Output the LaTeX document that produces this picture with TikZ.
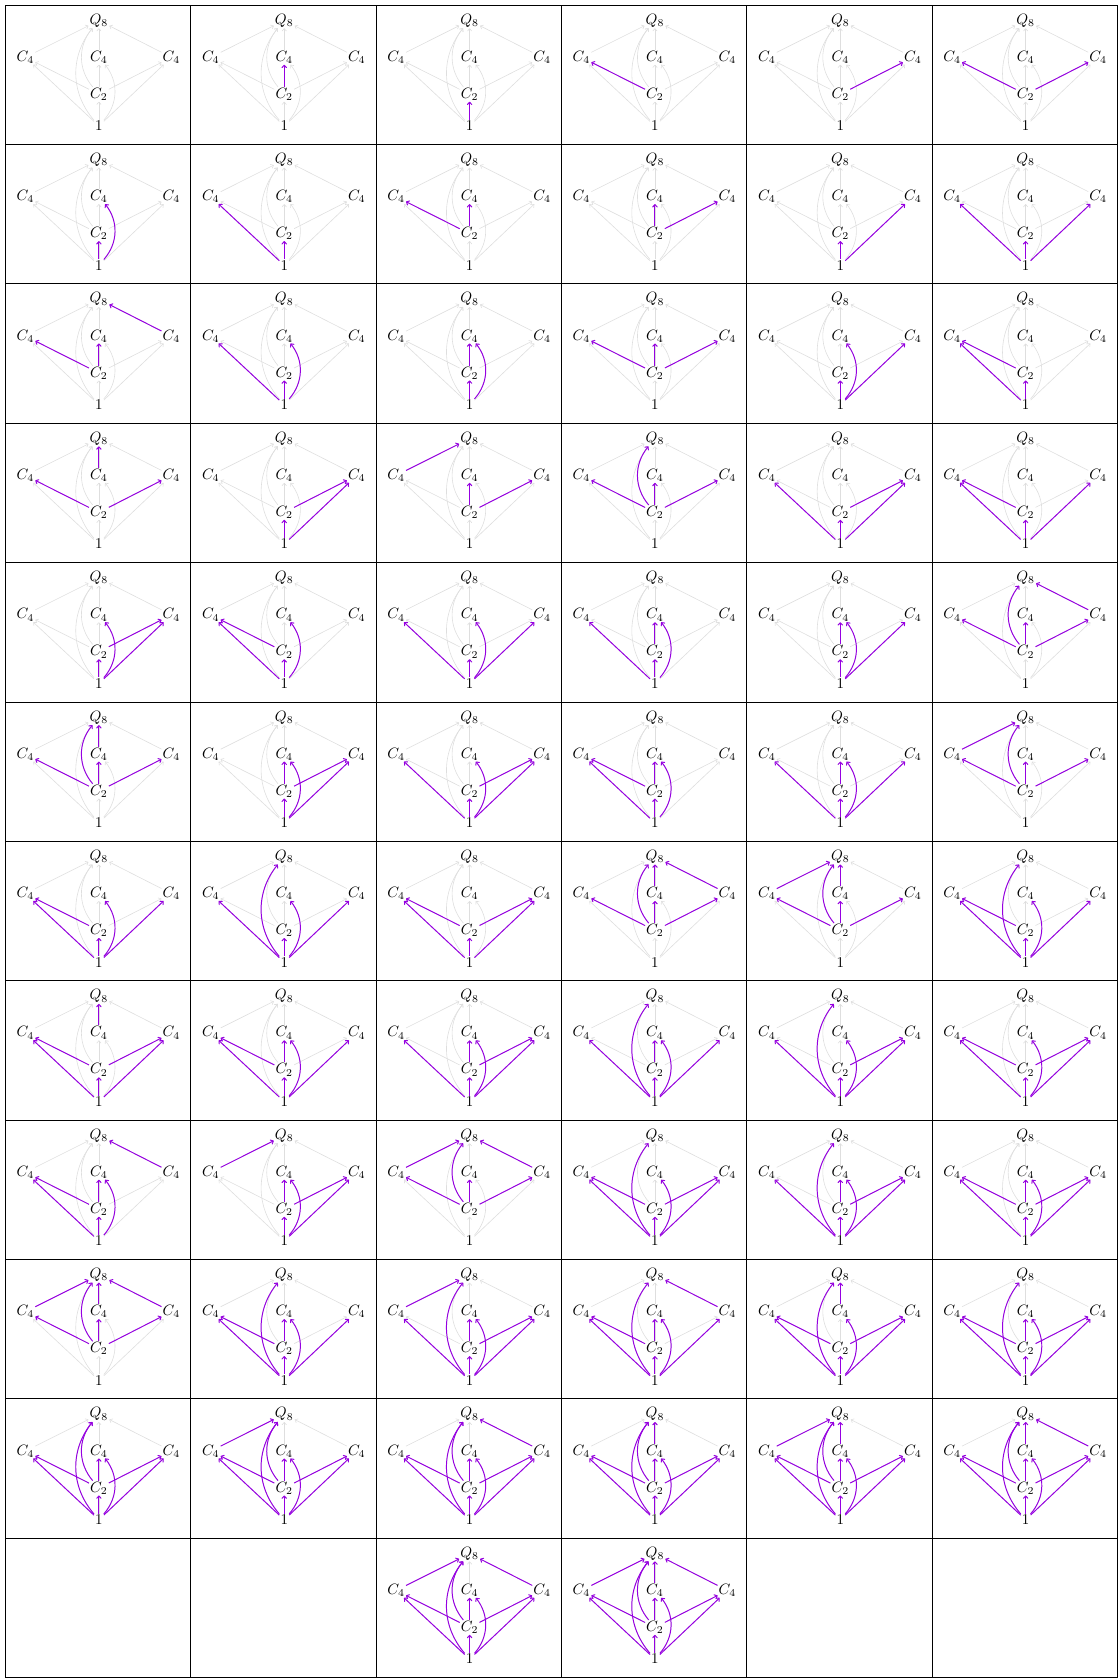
\documentclass[tikz,border=0pt]{standalone}
\usetikzlibrary{arrows.meta}
\definecolor{tsviolet}{RGB}{150,0,225}
\tikzset{
  lbl/.style={inner sep=0.6pt},
  gedge/.style={draw=black!13, line width=0.4pt, -{To[length=2pt,width=3.2pt]}},
  pedge/.style={draw=tsviolet, line width=0.65pt, -{To[length=2.2pt,width=3.6pt]}},
  gridline/.style={draw=black, line width=0.5pt}
}
\newcommand\Enone[2]{}
\newcommand\Ea[2]{\path[#1] (#2O) -- (#2Z);}
\newcommand\Eb[2]{\path[#1] (#2O) -- (#2L);}
\newcommand\Ec[2]{\path[#1] (#2O) to[bend right=40] (#2M);}
\newcommand\Ed[2]{\path[#1] (#2O) -- (#2R);}
\newcommand\Ee[2]{\path[#1] (#2O) to[bend left=40] (#2Q);}
\newcommand\Ef[2]{\path[#1] (#2Z) -- (#2L);}
\newcommand\Eg[2]{\path[#1] (#2Z) -- (#2M);}
\newcommand\Eh[2]{\path[#1] (#2Z) -- (#2R);}
\newcommand\Ei[2]{\path[#1] (#2Z) to[bend left=40] (#2Q);}
\newcommand\Ej[2]{\path[#1] (#2L) -- (#2Q);}
\newcommand\Ek[2]{\path[#1] (#2M) -- (#2Q);}
\newcommand\El[2]{\path[#1] (#2R) -- (#2Q);}
\newcommand\tscell[3]{% #1 col, #2 row, #3 edges
  \begin{scope}[shift={({5.4+(#1-1)*185.35},{5+(#2-1)*139.375})}]
    \node[lbl] (n#1x#2Q) at (93.5,15.5) {$Q_8$};
    \node[lbl] (n#1x#2L) at (20,52.3) {$C_4$};
    \node[lbl] (n#1x#2M) at (93.5,52.3) {$C_4$};
    \node[lbl] (n#1x#2R) at (166,52.3) {$C_4$};
    \node[lbl] (n#1x#2Z) at (93.5,89.3) {$C_2$};
    \node[lbl] (n#1x#2O) at (93.5,121) {$1$};
  \end{scope}
  \foreach \e in {a,b,c,d,e,f,g,h,i,j,k,l}{\csname E\e\endcsname{gedge}{n#1x#2}}
  \foreach \e in {#3}{\csname E\e\endcsname{pedge}{n#1x#2}}
}
\begin{document}
\begin{tikzpicture}[x=0.6667pt,y=-0.6667pt]
\useasboundingbox (0,0) rectangle (1118,1678);
\foreach \k in {0,...,6}{\path[gridline] ({5.4+\k*185.35},5) -- ({5.4+\k*185.35},1677.5);}
\foreach \k in {0,...,12}{\path[gridline] (5.4,{5+\k*139.375}) -- (1117.5,{5+\k*139.375});}
% row 1
\tscell{1}{1}{none}
\tscell{2}{1}{g}
\tscell{3}{1}{a}
\tscell{4}{1}{f}
\tscell{5}{1}{h}
\tscell{6}{1}{f,h}
% row 2
\tscell{1}{2}{a,c}
\tscell{2}{2}{a,b}
\tscell{3}{2}{f,g}
\tscell{4}{2}{g,h}
\tscell{5}{2}{a,d}
\tscell{6}{2}{a,b,d}
% row 3
\tscell{1}{3}{f,g,l}
\tscell{2}{3}{a,b,c}
\tscell{3}{3}{a,c,g}
\tscell{4}{3}{f,g,h}
\tscell{5}{3}{a,c,d}
\tscell{6}{3}{a,b,f}
% row 4
\tscell{1}{4}{f,h,k}
\tscell{2}{4}{a,d,h}
\tscell{3}{4}{g,h,j}
\tscell{4}{4}{f,g,h,i}
\tscell{5}{4}{a,b,d,h}
\tscell{6}{4}{a,b,d,f}
% row 5
\tscell{1}{5}{a,c,d,h}
\tscell{2}{5}{a,b,c,f}
\tscell{3}{5}{a,b,c,d}
\tscell{4}{5}{a,b,c,g}
\tscell{5}{5}{a,c,d,g}
\tscell{6}{5}{f,g,h,i,l}
% row 6
\tscell{1}{6}{f,g,h,i,k}
\tscell{2}{6}{a,c,d,g,h}
\tscell{3}{6}{a,b,c,d,h}
\tscell{4}{6}{a,b,c,f,g}
\tscell{5}{6}{a,b,c,d,g}
\tscell{6}{6}{f,g,h,i,j}
% row 7
\tscell{1}{7}{a,b,c,d,f}
\tscell{2}{7}{a,b,c,d,e}
\tscell{3}{7}{a,b,d,f,h}
\tscell{4}{7}{f,g,h,i,k,l}
\tscell{5}{7}{f,g,h,i,j,k}
\tscell{6}{7}{a,b,c,d,e,f}
% row 8
\tscell{1}{8}{a,b,d,f,h,k}
\tscell{2}{8}{a,b,c,d,f,g}
\tscell{3}{8}{a,b,c,d,g,h}
\tscell{4}{8}{a,b,c,d,e,g}
\tscell{5}{8}{a,b,c,d,e,h}
\tscell{6}{8}{a,b,c,d,f,h}
% row 9
\tscell{1}{9}{a,b,c,f,g,l}
\tscell{2}{9}{a,c,d,g,h,j}
\tscell{3}{9}{f,g,h,i,j,l}
\tscell{4}{9}{a,b,c,d,e,f,h}
\tscell{5}{9}{a,b,c,d,e,g,h}
\tscell{6}{9}{a,b,c,d,f,g,h}
% row 10
\tscell{1}{10}{f,g,h,i,j,k,l}
\tscell{2}{10}{a,b,c,d,e,f,g}
\tscell{3}{10}{a,b,c,d,e,g,h,j}
\tscell{4}{10}{a,b,c,d,e,f,g,l}
\tscell{5}{10}{a,b,c,d,e,f,h,k}
\tscell{6}{10}{a,b,c,d,e,f,g,h}
% row 11
\tscell{1}{11}{a,b,c,d,e,f,g,h,i}
\tscell{2}{11}{a,b,c,d,e,f,g,h,i,j}
\tscell{3}{11}{a,b,c,d,e,f,g,h,i,l}
\tscell{4}{11}{a,b,c,d,e,f,g,h,i,k}
\tscell{5}{11}{a,b,c,d,e,f,g,h,i,j,k}
\tscell{6}{11}{a,b,c,d,e,f,g,h,i,k,l}
% row 12
\tscell{3}{12}{a,b,c,d,e,f,g,h,i,j,l}
\tscell{4}{12}{a,b,c,d,e,f,g,h,i,j,k,l}
\end{tikzpicture}
\end{document}
